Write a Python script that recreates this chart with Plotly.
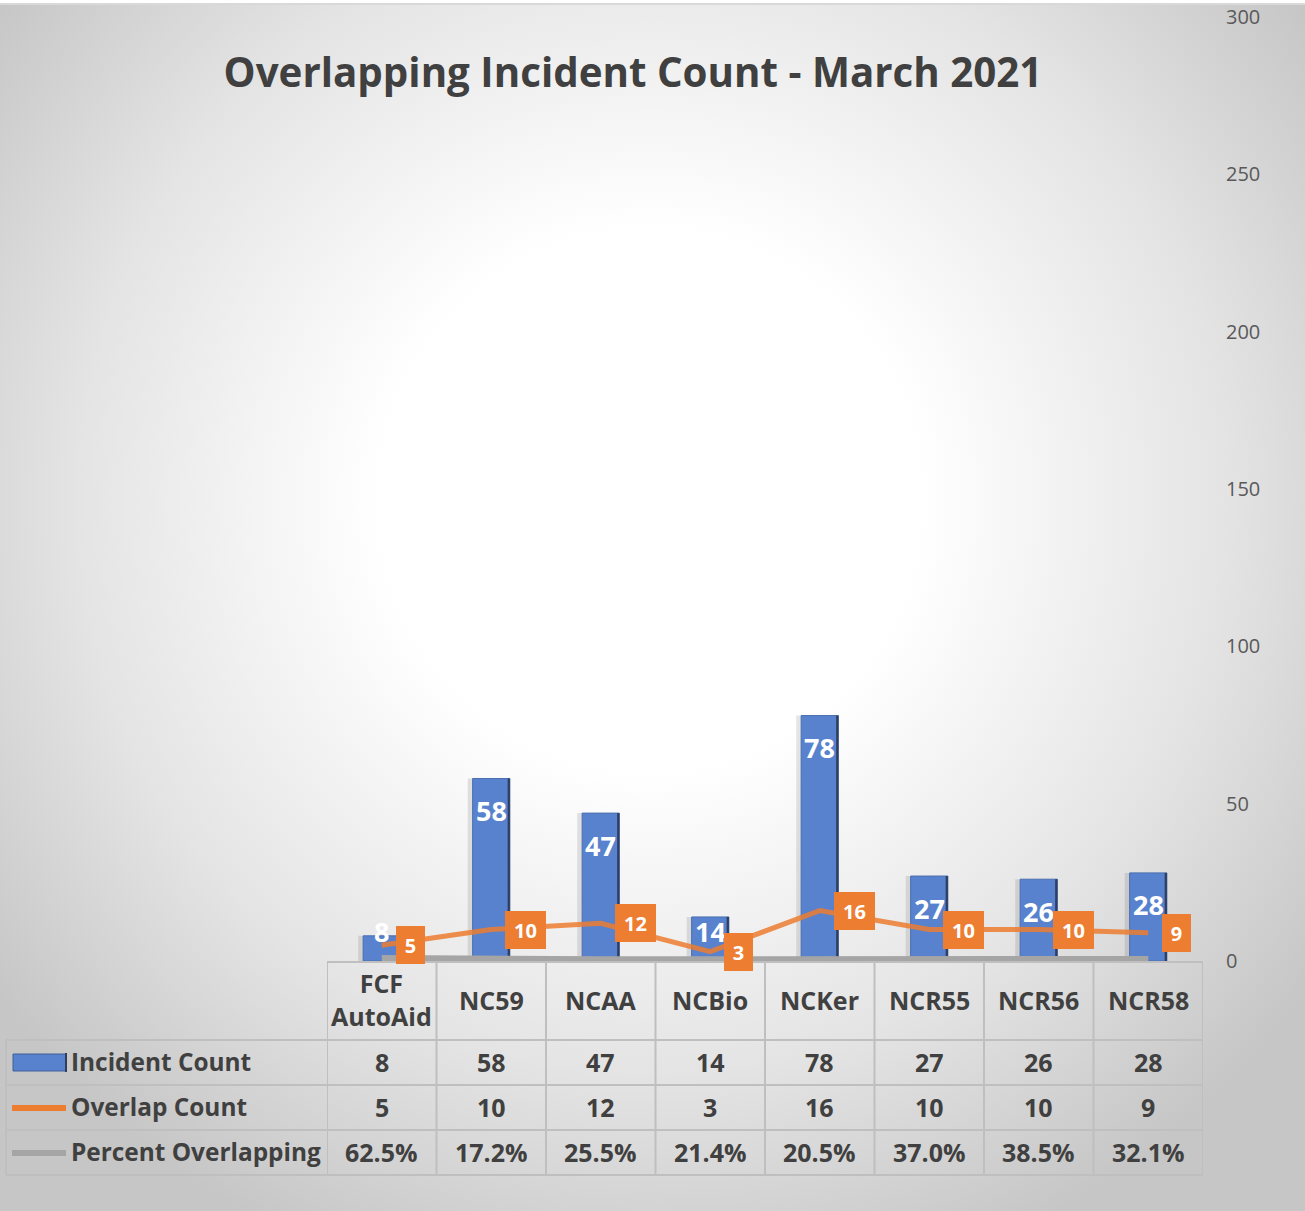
import base64
import plotly.graph_objects as go

# ---------------- data ----------------
categories = ["FCF AutoAid", "NC59", "NCAA", "NCBio", "NCKer", "NCR55", "NCR56", "NCR58"]
header_labels = ["FCF<br>AutoAid", "NC59", "NCAA", "NCBio", "NCKer", "NCR55", "NCR56", "NCR58"]
incident_count = [8, 58, 47, 14, 78, 27, 26, 28]
overlap_count = [5, 10, 12, 3, 16, 10, 10, 9]
percent_overlapping = [62.5, 17.2, 25.5, 21.4, 20.5, 37.0, 38.5, 32.1]
y_ticks = [0, 50, 100, 150, 200, 250, 300]
series_names = ["Incident Count", "Overlap Count", "Percent Overlapping"]

# ---------------- geometry helpers ----------------
W, H = 1305, 1211
def px(x):
    return x / W
def py(y):
    return 1 - y / H

X0, X1 = 327, 1203       # plot area left/right
Y0, YT = 961, 17         # y=0 and y=300 pixel rows
ROW_TOP = [961, 1040, 1085, 1130]
ROW_BOT = 1175
TEXT = "#404040"
BLUE = "#5882CD"
ORANGE = "#ED7D31"
GRAY = "#A5A5A5"
GRID = "#BFBFBF"
FONT = "Open Sans"

xidx = list(range(len(categories)))

# ---------------- background (radial gradient) ----------------
svg = f'''<svg xmlns="http://www.w3.org/2000/svg" width="{W}" height="{H}" viewBox="0 0 {W} {H}">
<defs><radialGradient id="g" gradientUnits="userSpaceOnUse" cx="650" cy="500" r="820">
<stop offset="0" stop-color="#FFFFFF"/><stop offset="0.33" stop-color="#FFFFFF"/>
<stop offset="0.7" stop-color="#E4E4E4"/><stop offset="1" stop-color="#C6C6C6"/></radialGradient></defs>
<rect width="{W}" height="{H}" fill="url(#g)"/>
<rect width="{W}" height="3" fill="#FFFFFF"/><rect y="3" width="{W}" height="2" fill="#D9D9D9"/></svg>'''
bg_uri = "data:image/svg+xml;base64," + base64.b64encode(svg.encode()).decode()

fig = go.Figure()

# bar shadow
fig.add_trace(go.Bar(x=xidx, y=incident_count, width=0.38, offset=-0.215,
                     marker=dict(color="rgba(0,0,0,0.10)", line=dict(width=0)),
                     hoverinfo="skip", showlegend=False))
# main bars
fig.add_trace(go.Bar(x=xidx, y=incident_count, width=0.34, offset=-0.17, name=series_names[0],
                     marker=dict(color=BLUE, line=dict(color="#4A6FB0", width=1)),
                     showlegend=False))
# dark right bevel edge
fig.add_trace(go.Bar(x=xidx, y=incident_count, width=0.02, offset=0.15,
                     marker=dict(color="#2E3E5C", line=dict(width=0)),
                     hoverinfo="skip", showlegend=False))
# overlap line
fig.add_trace(go.Scatter(x=xidx, y=overlap_count, mode="lines", name=series_names[1],
                         line=dict(color=ORANGE, width=5), opacity=0.85, showlegend=False))
# percent line (plotted as fraction on the same axis)
fig.add_trace(go.Scatter(x=xidx, y=[p / 100 for p in percent_overlapping], mode="lines",
                         name=series_names[2], line=dict(color=GRAY, width=8),
                         showlegend=False))

fig.update_layout(barmode="overlay")

ann = []
# bar value labels (inside end, clamped for short bars)
for i, v in enumerate(incident_count):
    yc = max(v - 10.2, 9.5)
    ann.append(dict(x=i, y=yc, xref="x", yref="y", text=f"<b>{v}</b>", showarrow=False,
                    xanchor="center", yanchor="middle",
                    font=dict(family=FONT, size=27, color="white")))
# overlap labels in orange boxes
for i, v in enumerate(overlap_count):
    wbox = 29 if len(str(v)) == 1 else 41
    ann.append(dict(x=i, y=v, xref="x", yref="y", text=f"<b>{v}</b>", showarrow=False,
                    xanchor="left", yanchor="middle", xshift=14,
                    width=wbox, height=38, align="center", valign="middle",
                    bgcolor=ORANGE, borderwidth=0, borderpad=0,
                    font=dict(family=FONT, size=20, color="white")))

# table header (category names)
for i, lab in enumerate(header_labels):
    ann.append(dict(x=i, y=py((ROW_TOP[0] + ROW_TOP[1]) / 2 - 1), xref="x", yref="paper",
                    text=f"<b>{lab}</b>", showarrow=False, xanchor="center", yanchor="middle",
                    font=dict(family=FONT, size=25, color=TEXT)))
# table rows
row_values = [
    [str(v) for v in incident_count],
    [str(v) for v in overlap_count],
    [f"{v:.1f}%" for v in percent_overlapping],
]
for r, vals in enumerate(row_values):
    top = ROW_TOP[r + 1]
    bot = ROW_TOP[r + 2] if r + 2 < len(ROW_TOP) else ROW_BOT
    yc = py((top + bot) / 2 - 1)
    ann.append(dict(x=px(69), y=yc, xref="paper", yref="paper", text=f"<b>{series_names[r]}</b>",
                    showarrow=False, xanchor="left", yanchor="middle",
                    font=dict(family=FONT, size=24.4, color=TEXT)))
    for i, t in enumerate(vals):
        ann.append(dict(x=i, y=yc, xref="x", yref="paper", text=f"<b>{t}</b>", showarrow=False,
                        xanchor="center", yanchor="middle",
                        font=dict(family=FONT, size=25, color=TEXT)))

shapes = []
# vertical grid lines in table (category boundaries)
for k in range(len(categories) + 1):
    shapes.append(dict(type="line", xref="x", yref="paper", x0=k - 0.5, x1=k - 0.5,
                       y0=py(ROW_TOP[0]), y1=py(ROW_BOT), line=dict(color=GRID, width=2)))
# left edge of legend column
shapes.append(dict(type="line", xref="paper", yref="paper", x0=px(6), x1=px(6),
                   y0=py(ROW_TOP[1]), y1=py(ROW_BOT), line=dict(color=GRID, width=2)))
# horizontal lines
for yy in ROW_TOP[1:] + [ROW_BOT]:
    shapes.append(dict(type="line", xref="paper", yref="paper", x0=px(6), x1=px(X1),
                       y0=py(yy), y1=py(yy), line=dict(color=GRID, width=2)))
# legend keys
shapes.append(dict(type="rect", xref="paper", yref="paper", x0=px(13), x1=px(66),
                   y0=py(1071), y1=py(1054), fillcolor=BLUE, line=dict(color="#3F5F99", width=1)))
shapes.append(dict(type="line", xref="paper", yref="paper", x0=px(66), x1=px(66),
                   y0=py(1072), y1=py(1053), line=dict(color="#2E3E5C", width=2)))
shapes.append(dict(type="line", xref="paper", yref="paper", x0=px(12), x1=px(66),
                   y0=py(1108), y1=py(1108), line=dict(color=ORANGE, width=6)))
shapes.append(dict(type="line", xref="paper", yref="paper", x0=px(12), x1=px(66),
                   y0=py(1153), y1=py(1153), line=dict(color=GRAY, width=6)))

fig.update_layout(
    width=W, height=H,
    margin=dict(l=0, r=0, t=0, b=0, pad=0, autoexpand=False),
    paper_bgcolor="white",
    plot_bgcolor="rgba(0,0,0,0)",
    title=dict(text="<b>Overlapping Incident Count - March 2021</b>",
               x=633 / W, xanchor="center", y=py(73), yanchor="middle",
               font=dict(family=FONT, size=40.3, color=TEXT), automargin=False),
    xaxis=dict(domain=[px(X0), px(X1)], range=[-0.5, len(categories) - 0.5],
               showticklabels=False, ticks="", showgrid=False, zeroline=False,
               showline=True, linecolor=GRID, linewidth=2, automargin=False),
    yaxis=dict(domain=[py(Y0), py(YT)], range=[0, 300], side="right",
               tickvals=y_ticks, ticktext=[str(t) for t in y_ticks],
               showgrid=False, zeroline=False, showline=False, ticks="",
               ticklabelstandoff=22, automargin=False,
               tickfont=dict(family=FONT, size=20, color="#595959")),
    images=[dict(source=bg_uri, xref="paper", yref="paper", x=0, y=1, sizex=1, sizey=1,
                 xanchor="left", yanchor="top", sizing="stretch", layer="below")],
    annotations=ann,
    shapes=shapes,
)

fig.write_html("out.html", config={"displayModeBar": False},
               post_script="document.body.style.margin='0';document.body.style.overflow='hidden';")
